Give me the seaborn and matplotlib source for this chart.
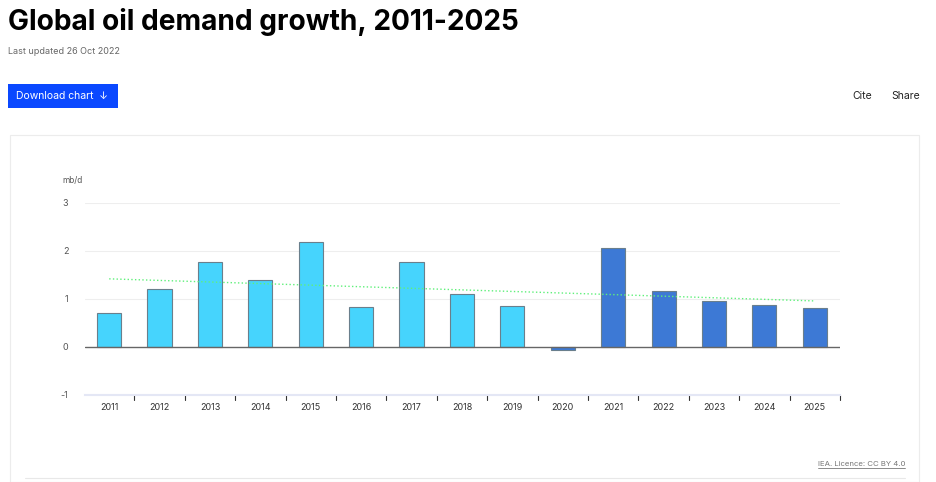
import matplotlib
matplotlib.use("Agg")
import matplotlib.pyplot as plt
import seaborn as sns
import pandas as pd
from matplotlib.patches import Rectangle

# values (mb/d)
years = [str(y) for y in range(2011, 2026)]
growth = [0.71, 1.21, 1.78, 1.40, 2.18, 0.83, 1.77, 1.10, 0.85, -0.07,
          2.07, 1.17, 0.96, 0.88, 0.81]
period = ["hist"] * 9 + ["recent"] * 6
trend_start = 1.42
trend_end = 0.96
yticks = [-1, 0, 1, 2, 3]

df = pd.DataFrame({"year": years, "growth": growth, "period": period})

sns.set_theme(style="white")
plt.rcParams["font.family"] = ["Inter", "DejaVu Sans"]

W, H = 936, 482
fig = plt.figure(figsize=(W / 100, H / 100), dpi=100)
fig.patch.set_facecolor("white")

def px(x, y):
    return x / W, 1 - y / H

# card border
fig.patches.append(Rectangle((10 / W, 0), 909 / W, 1 - 135 / H, transform=fig.transFigure,
                             fill=False, edgecolor="#ececec", lw=0.8))
fig.add_artist(plt.Line2D([25 / W, 905 / W], [1 - 478 / H] * 2, color="#e8e8e8", lw=0.8))

# header
fig.text(*px(8, 30), "Global oil demand growth, 2011-2025", fontsize=20.2, fontweight="bold",
         color="black", va="baseline")
fig.text(*px(8, 54), "Last updated 26 Oct 2022", fontsize=6.5, color="#666666", va="baseline")
fig.patches.append(Rectangle(px(8, 108), 110 / W, 24 / H, transform=fig.transFigure,
                             facecolor="#0a48ff", edgecolor="none"))
fig.text(*px(16, 96), "Download chart  \u2193", fontsize=7.5, color="white", va="center")
fig.text(*px(852, 96), "Cite", fontsize=7.5, color="#222222", va="center")
fig.text(*px(891, 96), "Share", fontsize=7.5, color="#222222", va="center")

# chart axes
ax = fig.add_axes([85 / W, 1 - 395 / H, 755 / W, 192 / H])
sns.barplot(data=df, x="year", y="growth", hue="period", dodge=False, width=0.48,
            palette={"hist": "#46d4fd", "recent": "#3d79d5"}, legend=False, saturation=1,
            edgecolor="#6a7f8c", linewidth=0.8, ax=ax)
ax.plot([0, len(years) - 1], [trend_start, trend_end], ls=":", color="#5ff07a", lw=1)

ax.set_xlim(-0.48, len(years) - 0.5)
ax.set_ylim(-1, 3)
ax.set_yticks(yticks)
ax.set_yticklabels([str(t) for t in yticks], fontsize=6.5, color="#555555")
for t in yticks[2:]:
    ax.axhline(t, color="#eeeeee", lw=0.8, zorder=0)
ax.axhline(0, color="#666666", lw=1, zorder=3)
for s in ["top", "right", "left"]:
    ax.spines[s].set_visible(False)
ax.spines["bottom"].set_color("#e4e7f5")
ax.spines["bottom"].set_linewidth(1.5)
ax.tick_params(axis="y", length=0, pad=12)
ax.set_xticks(range(len(years)))
ax.set_xticklabels(years, fontsize=6.5, color="#333333")
ax.tick_params(axis="x", length=0, pad=6)
for i in range(len(years)):
    ax.plot([i + 0.5, i + 0.5], [-1, -1.1], color="#333333", lw=0.8, clip_on=False)
ax.set_xlabel("")
ax.set_ylabel("")
fig.text(*px(62, 183), "mb/d", fontsize=6, color="#555555", va="baseline")

fig.text(*px(905, 466), "IEA. Licence: CC BY 4.0", fontsize=5.6, color="#777777",
         ha="right", va="baseline")
fig.add_artist(plt.Line2D([818 / W, 905 / W], [1 - 468 / H] * 2, color="#777777", lw=0.6))

fig.savefig("out.png", dpi=100)
